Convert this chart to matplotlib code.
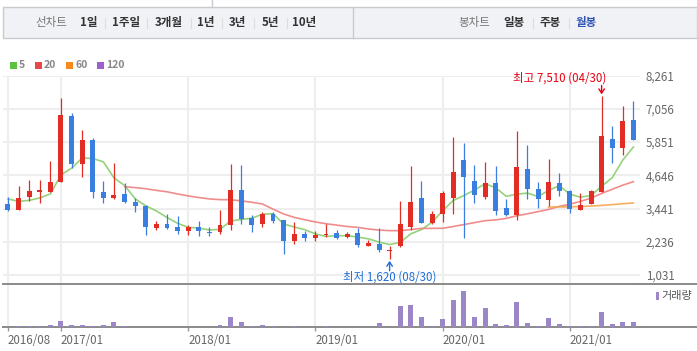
import numpy as np
import matplotlib
matplotlib.use('Agg')
import matplotlib.pyplot as plt
from matplotlib.patches import Rectangle
from matplotlib.lines import Line2D

plt.rcParams['font.family'] = ['Noto Sans CJK KR', 'DejaVu Sans']

# DATA (monthly candles, 2016/08 .. 2021/07)

OPENS = [3618, 3375, 3847, 4029, 4054, 4392, 6813, 5045, 5942, 4054,
         3811, 3981, 3691, 3546, 2747, 2892, 2783, 2638, 2783, 2602,
         2602, 2831, 4127, 3110, 2867, 3255, 3037, 2250, 2530, 2359,
         2493, 2566, 2395, 2566, 2069, 2166, 1901, 2069, 2783, 3836,
         2929, 3230, 3836, 5216, 4453, 3847, 4381, 3473, 3194, 4889,
         4163, 3738, 4370, 4090, 3375, 3593, 4054, 5978, 5626, 6668]
HIGHS = [3872, 4272, 4490, 4490, 5179, 7470, 6911, 6305, 6014, 4453,
         5107, 4370, 3825, 3582, 3001, 3244, 3172, 2856, 3001, 2783,
         3401, 5070, 5034, 3219, 3303, 3303, 3037, 2940, 2627, 2638,
         2881, 2674, 2602, 2722, 2311, 2722, 2094, 3702, 4972, 4453,
         3364, 4090, 6025, 5822, 5034, 5143, 4972, 3800, 6243, 5760,
         4417, 5226, 4744, 4127, 4018, 4127, 7510, 6424, 7176, 7357]
LOWS = [3364, 3375, 3727, 3630, 4029, 4392, 4900, 4573, 3836, 3630,
        3775, 3630, 3303, 2468, 2649, 2711, 2504, 2468, 2446, 2432,
        2504, 2674, 2867, 2577, 2783, 2903, 1778, 2141, 2264, 2250,
        2420, 2348, 2380, 2032, 2069, 1851, 1620, 2047, 2663, 2929,
        2867, 2940, 3230, 2388, 3630, 3775, 3194, 3157, 3012, 3775,
        3473, 3520, 3883, 3292, 3375, 3593, 4054, 5107, 5397, 5942]
CLOSES = [3400, 3836, 4090, 4127, 4417, 6849, 5045, 5942, 4029, 3811,
          3945, 3666, 3520, 2758, 2892, 2747, 2613, 2783, 2638, 2540,
          2856, 4127, 3074, 2856, 3255, 2976, 2250, 2530, 2359, 2493,
          2518, 2384, 2518, 2119, 2177, 1923, 1948, 2892, 3691, 2929,
          3255, 4018, 4780, 4573, 3934, 4381, 3339, 3194, 4961, 4137,
          3775, 4417, 4065, 3426, 3582, 4090, 6087, 5626, 6631, 5942]
VOLUMES = [0, 130, 130, 130, 230, 630, 230, 230, 130, 230,
           530, 130, 30, 30, 30, 30, 30, 30, 30, 30,
           230, 1030, 530, 130, 230, 130, 30, 130, 30, 30,
           130, 30, 30, 30, 30, 470, 30, 2130, 2230, 1030,
           130, 830, 2730, 3630, 1030, 1930, 330, 230, 2530, 430,
           130, 930, 330, 130, 130, 130, 1530, 330, 530, 530]

MA5 = [3789, 3702, 3738, 3825, 3974, 4664, 4906, 5276, 5256, 5135,
       4554, 4279, 3794, 3540, 3356, 3117, 2906, 2759, 2735, 2664,
       2686, 2989, 3047, 3091, 3234, 3258, 2882, 2773, 2674, 2522,
       2430, 2457, 2454, 2406, 2343, 2224, 2137, 2212, 2526, 2677,
       2943, 3357, 3735, 3911, 4112, 4337, 4201, 3884, 3962, 4002,
       3881, 4097, 4271, 3964, 3853, 3916, 4250, 4562, 5203, 5675]
MA20_START = 11
MA20 = [4236, 4200, 4160, 4100, 4050, 3970, 3900, 3840, 3790,
        3765, 3760, 3720, 3670, 3607, 3420, 3245, 3121, 3037, 2954,
        2890, 2840, 2790, 2758, 2700, 2660, 2640, 2638, 2680, 2720,
        2722, 2725, 2790, 2860, 2930, 3001, 3030, 3085, 3180, 3250,
        3330, 3410, 3520, 3600, 3700, 3820, 3990, 4140, 4290, 4417]
MA60_START = 51
MA60 = [3495, 3500, 3505, 3515, 3530, 3555, 3585, 3615, 3644]

Y_TICKS = [1031, 2236, 3441, 4646, 5851, 7056, 8261]
X_TICKS = [0, 5, 17, 29, 41, 53]
X_LABELS = ['2016/08', '2017/01', '2018/01', '2019/01', '2020/01', '2021/01']

# STYLE

W, H = 697, 351
UP = '#e22d24'
DOWN = '#3a7ee0'
GRID = '#eeeeee'
AXLINE = '#8a8a8a'
VOL = '#9b87c7'
MA_COLORS = ['#88cf6c', '#f08080', '#f6a64d']
LEG_COLORS = ['#5dc142', '#e9484a', '#f68a1e', '#9e5fd0']


def fx(px):
    return px / W


def fy(py):
    return 1 - py / H


fig = plt.figure(figsize=(W / 100, H / 100), dpi=100)

# top menu bar
fig.patches.append(Rectangle((fx(3), fy(38)), fx(694), 31 / H, transform=fig.transFigure,
                             facecolor='#f1f2f6', edgecolor='#c9cacf', lw=1))
fig.lines.append(Line2D([fx(353), fx(353)], [fy(8), fy(38)], transform=fig.transFigure, color='#c9cacf', lw=1))
fig.lines.append(Line2D([fx(212), fx(212)], [fy(0), fy(7)], transform=fig.transFigure, color='#c9cacf', lw=1))

menu_left = [('선차트', 51.5, '#777777', 'normal'), ('1일', 88.5, '#333333', 'bold'),
             ('1주일', 126, '#333333', 'bold'), ('3개월', 168.5, '#333333', 'bold'),
             ('1년', 205.5, '#333333', 'bold'), ('3년', 237.5, '#333333', 'bold'),
             ('5년', 270, '#333333', 'bold'), ('10년', 304.5, '#333333', 'bold'),
             ('봉차트', 474, '#777777', 'normal'), ('일봉', 514.5, '#333333', 'bold'),
             ('주봉', 550, '#333333', 'bold'), ('월봉', 586.5, '#2f55b5', 'bold')]
for txt, px, col, wt in menu_left:
    fig.text(fx(px), fy(22.5), txt, ha='center', va='center', fontsize=8.3, color=col, fontweight=wt)
for px in [104.5, 147, 190.5, 221.7, 254, 287, 533, 569]:
    fig.lines.append(Line2D([fx(px), fx(px)], [fy(18), fy(28)], transform=fig.transFigure, color='#dddddd', lw=0.8))

# moving average legend
for (lab, px), col in zip([('5', 10), ('20', 35), ('60', 66), ('120', 97)], LEG_COLORS):
    fig.patches.append(Rectangle((fx(px), fy(69)), 7 / W, 7 / H, transform=fig.transFigure,
                                 facecolor=col, edgecolor='none'))
    fig.text(fx(px + 9), fy(65.5), lab, ha='left', va='center', fontsize=7.5, color='#888888', fontweight='bold')

# price panel
ax = fig.add_axes([fx(3), fy(284), 637 / W, (284 - 75.7) / H])
x = np.arange(len(CLOSES))
opens = np.array(OPENS)
closes = np.array(CLOSES)
colors = [UP if c >= o else DOWN for o, c in zip(OPENS, CLOSES)]

ax.vlines(x, LOWS, HIGHS, colors=colors, lw=0.9, zorder=4)
body_bottom = np.minimum(opens, closes)
body_height = np.maximum(np.abs(closes - opens), 40)
ax.bar(x, body_height, bottom=body_bottom, width=0.47, color=colors, zorder=5)

ax.plot(x, MA5, color=MA_COLORS[0], lw=1.2, alpha=0.9, zorder=3)
ax.plot(x[MA20_START:], MA20, color=MA_COLORS[1], lw=1.2, alpha=0.9, zorder=3)
ax.plot(x[MA60_START:], MA60, color=MA_COLORS[2], lw=1.2, alpha=0.9, zorder=3)

ax.set_xlim(-0.47, 59.62)
ax.set_ylim(704, 8261)
ax.set_yticks(Y_TICKS)
ax.set_yticklabels([f'{v:,}' for v in Y_TICKS])
ax.yaxis.tick_right()
ax.tick_params(axis='y', length=0, pad=4, labelcolor='#666666', labelsize=8.3)
ax.set_xticks(X_TICKS)
ax.tick_params(axis='x', length=0, labelbottom=False)
ax.grid(True, color=GRID, lw=1.5, zorder=0)
for side in ['top', 'left', 'right']:
    ax.spines[side].set_visible(False)
ax.spines['bottom'].set_color(AXLINE)
ax.spines['bottom'].set_linewidth(1.4)
fig.lines.append(Line2D([fx(640), fx(697)], [fy(284), fy(284)], transform=fig.transFigure, color=AXLINE, lw=1.4))

# high / low marks
hi_i = int(np.argmax(HIGHS))
lo_i = int(np.argmin(LOWS))
ax.annotate(f'최고 {HIGHS[hi_i]:,} (04/30)', xy=(hi_i, HIGHS[hi_i]), xytext=(4.5, 18), textcoords='offset pixels',
            ha='right', va='center', fontsize=8.3, color='#e60012')
ax.annotate('', xy=(hi_i, HIGHS[hi_i]), xytext=(0, 11), textcoords='offset pixels',
            arrowprops=dict(arrowstyle='->,head_length=0.3,head_width=0.2', color='#e60012', lw=1,
                            shrinkA=0, shrinkB=1.5))
ax.annotate(f'최저 {LOWS[lo_i]:,} (08/30)', xy=(lo_i, LOWS[lo_i]), xytext=(0, -18.5), textcoords='offset pixels',
            ha='center', va='center', fontsize=8.3, color='#1f6fd8')
ax.annotate('', xy=(lo_i, LOWS[lo_i]), xytext=(0, -12), textcoords='offset pixels',
            arrowprops=dict(arrowstyle='->,head_length=0.3,head_width=0.2', color='#1f6fd8', lw=1,
                            shrinkA=0, shrinkB=1.5))

# volume panel
axv = fig.add_axes([fx(3), fy(327.3), 637 / W, (327.3 - 285) / H])
axv.bar(x, VOLUMES, width=0.47, color=VOL, zorder=3)
axv.set_xlim(-0.47, 59.62)
axv.set_ylim(0, 4230)
axv.set_yticks([])
axv.set_xticks(X_TICKS)
axv.set_xticklabels(X_LABELS)
for lab in axv.get_xticklabels():
    lab.set_ha('left')
axv.tick_params(axis='x', length=3, width=1, color='#999999', pad=2, labelcolor='#666666', labelsize=8.3)
axv.grid(True, axis='x', color=GRID, lw=1.5, zorder=0)
for side in ['top', 'left', 'right']:
    axv.spines[side].set_visible(False)
axv.spines['bottom'].set_color(AXLINE)
axv.spines['bottom'].set_linewidth(1.4)
fig.lines.append(Line2D([fx(640), fx(697)], [fy(327.3), fy(327.3)], transform=fig.transFigure, color=AXLINE, lw=1.4))

fig.patches.append(Rectangle((fx(656), fy(300)), 3 / W, 8 / H, transform=fig.transFigure,
                             facecolor=VOL, edgecolor='none'))
fig.text(fx(661.5), fy(296.5), '거래량', ha='left', va='center', fontsize=8, color='#555555')

fig.savefig('out.png', dpi=100)
